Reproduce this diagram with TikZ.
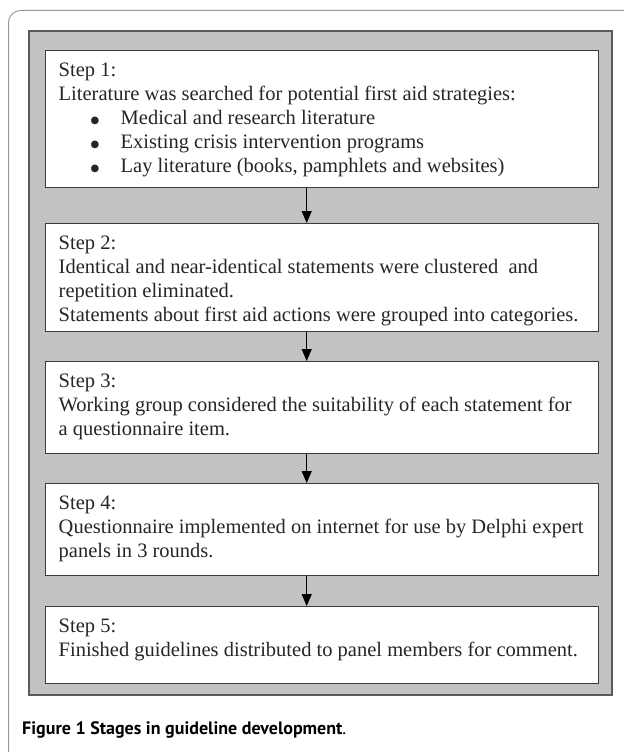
\documentclass[tikz,border=0pt]{standalone}
\usepackage{fontspec}
\setmainfont{Liberation Serif}
\newfontfamily\capfont{PT Sans}
\newfontfamily\symfont{DejaVu Sans}
\usetikzlibrary{arrows.meta}
\definecolor{panelgray}{HTML}{C2C2C2}
\definecolor{panelborder}{HTML}{5A5A5A}
\definecolor{boxborder}{HTML}{3A3A3A}
\definecolor{framegray}{HTML}{9A9A9A}
\definecolor{textcol}{HTML}{262626}
\newcommand\stepbody[2]{\begin{minipage}[t][#1][t]{553pt}\fontsize{20.5}{24}\selectfont\leftskip=13pt\parindent=0pt\rule{0pt}{26pt}#2\end{minipage}}
\newcommand\bul{\hspace*{32pt}\makebox[30pt][l]{\raisebox{1pt}{\symfont\fontsize{10}{12}\selectfont ●}}}
\tikzset{
  stepbox/.style={draw=boxborder, line width=1.4pt, fill=white, inner sep=0pt, anchor=north west, text=textcol},
  flowarrow/.style={line width=1.2pt, -{Triangle[length=12pt,width=10pt]}, black},
}
\begin{document}
\begin{tikzpicture}[x=1pt,y=-1pt]
\useasboundingbox (0,0) rectangle (624,752);
\draw[framegray, line width=1pt, rounded corners=12pt] (8.5,752) -- (8.5,10.5) -- (624,10.5);
\draw[panelborder, fill=panelgray, line width=1.3pt] (29,31) rectangle (612,695);

\node[stepbox] (s1) at (45,50) {\stepbody{137pt}{Step 1:\\
Literature was searched for potential first aid strategies:\\
\bul Medical and research literature\\
\bul Existing crisis intervention programs\\
\bul Lay literature (books, pamphlets and websites)}};

\node[stepbox] (s2) at (45,223) {\stepbody{108pt}{Step 2:\\
Identical and near-identical statements were clustered\ \ and\\
repetition eliminated.\\
Statements about first aid actions were grouped into categories.}};

\node[stepbox] (s3) at (45,361) {\stepbody{92pt}{Step 3:\\
Working group considered the suitability of each statement for\\
a questionnaire item.}};

\node[stepbox] (s4) at (45,483) {\stepbody{92pt}{Step 4:\\
Questionnaire implemented on internet for use by Delphi expert\\
panels in 3 rounds.}};

\node[stepbox] (s5) at (45,606) {\stepbody{77pt}{Step 5:\\
Finished guidelines distributed to panel members for comment.}};

\draw[flowarrow] ([xshift=-15.5pt]s1.south) -- ([xshift=-15.5pt]s2.north);
\draw[flowarrow] ([xshift=-15.5pt]s2.south) -- ([xshift=-15.5pt]s3.north);
\draw[flowarrow] ([xshift=-15.5pt]s3.south) -- ([xshift=-15.5pt]s4.north);
\draw[flowarrow] ([xshift=-15.5pt]s4.south) -- ([xshift=-15.5pt]s5.north);

\node[anchor=base west, inner sep=0pt, text=black, font=\capfont\fontsize{18}{21}\selectfont\bfseries] (cap) at (22,734) {Figure 1 Stages in guideline development\textmd{.}};
\end{tikzpicture}
\end{document}
